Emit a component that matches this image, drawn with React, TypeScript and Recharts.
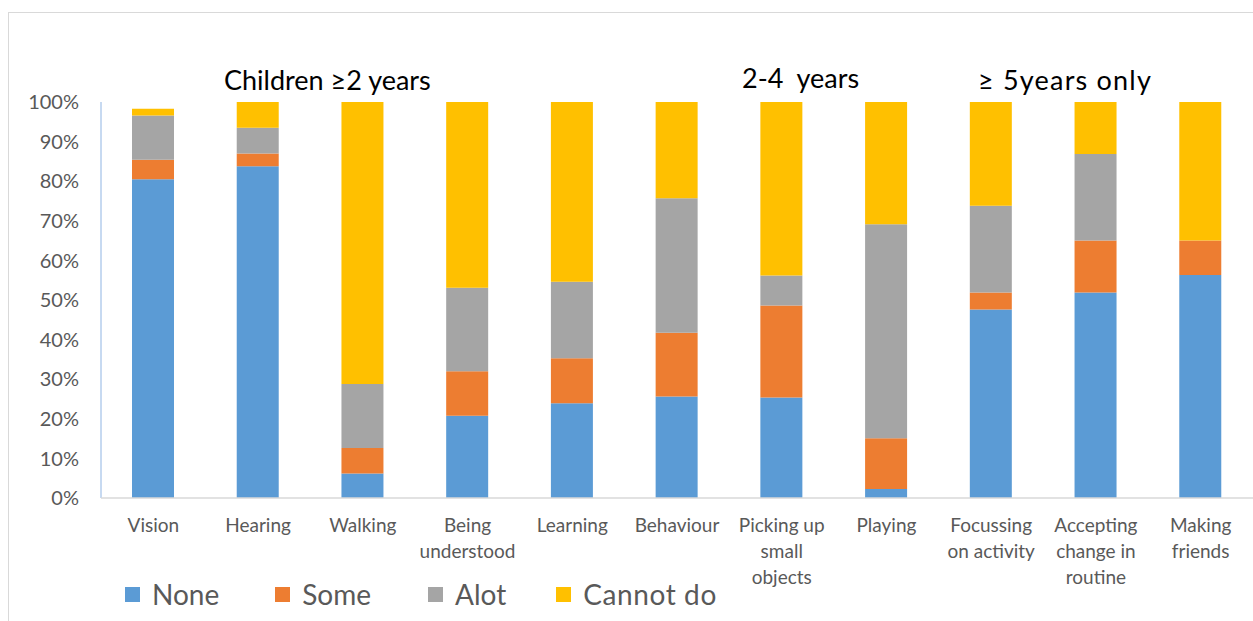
import React from "react";
import { BarChart, Bar, XAxis, YAxis, Legend } from "recharts";

const categories = [
  "Vision",
  "Hearing",
  "Walking",
  "Being\nunderstood",
  "Learning",
  "Behaviour",
  "Picking up\nsmall\nobjects",
  "Playing",
  "Focussing\non activity",
  "Accepting\nchange in\nroutine",
  "Making\nfriends",
];
const none = [80.5, 83.8, 6.2, 20.8, 23.9, 25.6, 25.4, 2.3, 47.6, 51.9, 56.3];
const some = [4.9, 3.2, 6.4, 11.2, 11.4, 16.1, 23.2, 12.8, 4.3, 13.1, 8.7];
const alot = [11.2, 6.5, 16.2, 21.1, 19.3, 34.0, 7.6, 54.0, 21.9, 21.9, 0];
const cannot = [1.7, 6.5, 71.2, 46.9, 45.4, 24.3, 43.8, 30.9, 26.2, 13.1, 35.0];
const yTicks = [0, 10, 20, 30, 40, 50, 60, 70, 80, 90, 100];
const seriesNames = ["None", "Some", "Alot", "Cannot do"];
const seriesColors = ["#5b9bd5", "#ed7d31", "#a5a5a5", "#ffc000"];
const groupLabels = ["Children \u22652 years", "2-4  years", "\u2265 5years only"];

const data = categories.map((c, i) => ({
  name: c,
  none: none[i],
  some: some[i],
  alot: alot[i],
  cannot: cannot[i],
}));

const FONT = "Lato, 'Open Sans', sans-serif";

const XTick = (props: any) => {
  const { x, y, payload } = props;
  const lines = String(payload.value).split("\n");
  return (
    <text x={x} y={y + 26} textAnchor="middle" fill="#595959" fontSize={19} fontFamily={FONT}>
      {lines.map((l: string, i: number) => (
        <tspan key={i} x={x} dy={i === 0 ? 0 : 26}>
          {l}
        </tspan>
      ))}
    </text>
  );
};

const legendGaps = [56, 57, 50, 0];

const renderLegend = () => (
  <div
    style={{
      display: "flex",
      alignItems: "center",
      height: 40,
      fontFamily: FONT,
      fontSize: 28,
      color: "#595959",
    }}
  >
    {seriesNames.map((n, i) => (
      <div key={n} style={{ display: "flex", alignItems: "center", marginRight: legendGaps[i] }}>
        <span
          style={{
            display: "inline-block",
            width: 15,
            height: 15,
            background: seriesColors[i],
            marginRight: 12,
          }}
        />
        <span style={{ letterSpacing: i === 3 ? 0.6 : 0 }}>{n}</span>
      </div>
    ))}
  </div>
);

export default function App() {
  return (
    <div style={{ position: "absolute", left: 0, top: 0, width: 1253, height: 621, background: "#fff", overflow: "hidden" }}>
      <div
        style={{
          position: "absolute",
          left: 8,
          top: 12,
          width: 1300,
          height: 700,
          borderLeft: "1px solid #d9d9d9",
          borderTop: "1px solid #d9d9d9",
        }}
      />
      <div style={{ position: "absolute", left: 0, top: 0 }}>
        <BarChart
          width={1253}
          height={621}
          data={data}
          margin={{ top: 102, right: 0, bottom: 0, left: 0 }}
          barSize={42}
        >
          <YAxis
            width={101}
            domain={[0, 100]}
            ticks={yTicks}
            tickFormatter={(v: number) => `${v}%`}
            tickLine={false}
            tickMargin={16}
            axisLine={{ stroke: "#8fb4e3", strokeWidth: 1 }}
            tick={{ fill: "#595959", fontSize: 20, fontFamily: FONT }}
            interval={0}
          />
          <XAxis
            dataKey="name"
            height={83}
            interval={0}
            tickLine={false}
            axisLine={{ stroke: "#d9d9d9", strokeWidth: 1.5 }}
            tick={<XTick />}
          />
          <Legend
            verticalAlign="bottom"
            align="left"
            content={renderLegend}
            wrapperStyle={{ left: 125, bottom: 7, height: 40 }}
          />
          <Bar dataKey="none" name="None" stackId="a" fill={seriesColors[0]} isAnimationActive={false} />
          <Bar dataKey="some" name="Some" stackId="a" fill={seriesColors[1]} isAnimationActive={false} />
          <Bar dataKey="alot" name="Alot" stackId="a" fill={seriesColors[2]} isAnimationActive={false} />
          <Bar dataKey="cannot" name="Cannot do" stackId="a" fill={seriesColors[3]} isAnimationActive={false} />
        </BarChart>
      </div>
      <div style={{ position: "absolute", left: 224, top: 63, fontFamily: FONT, fontSize: 27, color: "#000", whiteSpace: "pre" }}>
        {groupLabels[0]}
      </div>
      <div style={{ position: "absolute", left: 742, top: 61, fontFamily: FONT, fontSize: 27, color: "#000", whiteSpace: "pre" }}>
        {groupLabels[1]}
      </div>
      <div style={{ position: "absolute", left: 978, top: 63, fontFamily: FONT, fontSize: 27, color: "#000", whiteSpace: "pre", letterSpacing: 1.2 }}>
        {groupLabels[2]}
      </div>
    </div>
  );
}
